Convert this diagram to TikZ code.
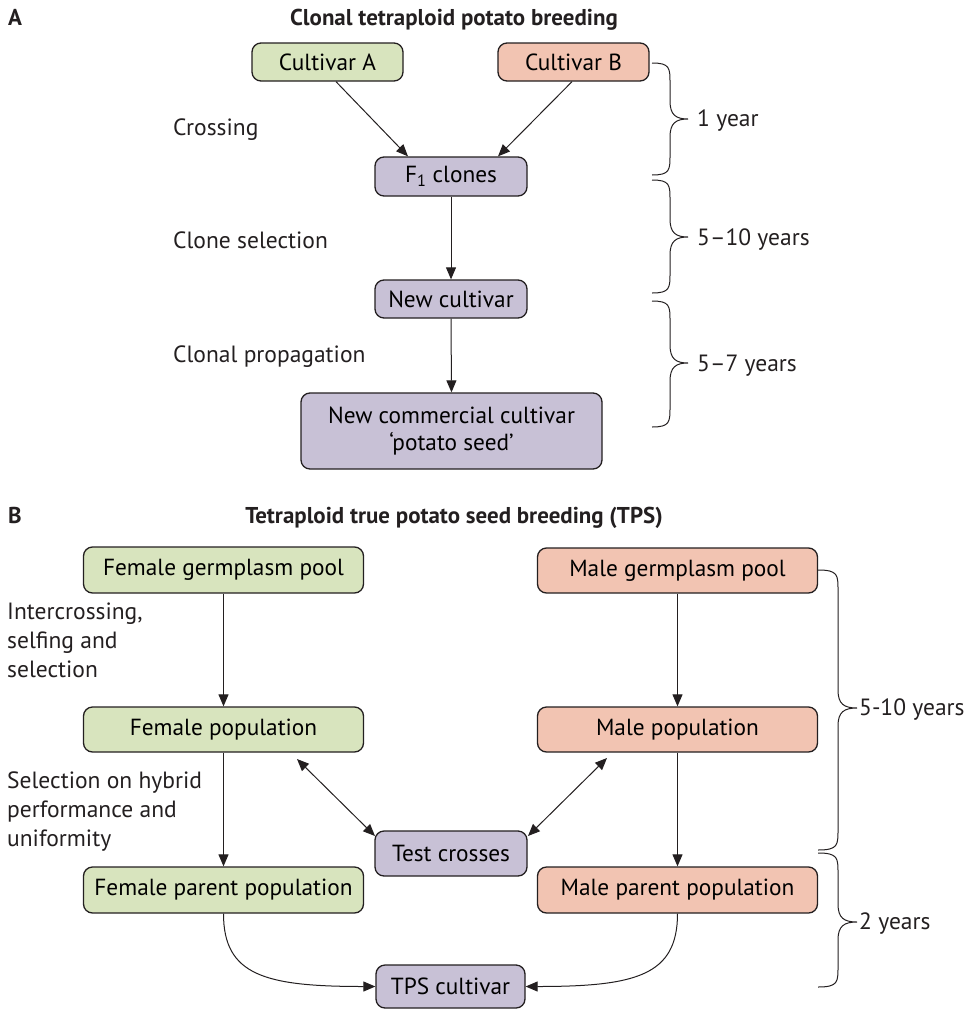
\documentclass[tikz,border=0pt]{standalone}
\usepackage{fontspec}
\setmainfont{PT Sans}
\usetikzlibrary{arrows.meta,calc}
\definecolor{cgreen}{RGB}{216,228,190}
\definecolor{cpink}{RGB}{242,196,178}
\definecolor{cpurple}{RGB}{200,193,214}
\definecolor{cline}{RGB}{35,31,32}
\newcommand\boxfont{\fontsize{23.4}{28}\selectfont}
\newcommand\lblfont{\fontsize{23.6}{28}\selectfont}
\newcommand\ttlfont{\fontsize{23}{26}\selectfont\bfseries}
\newcommand\drawbrace[6]{%
  \draw[brc] (#1,#4) .. controls (#2,#4) and (#2,{#4+5}) .. (#2,{#4+20})
    -- (#2,{#5-18}) .. controls (#2,{#5-4}) and ({#2+6},#5) .. (#3,#5)
    .. controls ({#2+6},#5) and (#2,{#5+4}) .. (#2,{#5+18})
    -- (#2,{#6-20}) .. controls (#2,{#6-5}) and (#2,#6) .. (#1,#6);}
\begin{document}
\begin{tikzpicture}[x=1bp,y=-1bp,
  box/.style n args={3}{draw=cline, line width=1.3bp, rounded corners=9bp,
    fill=#1, minimum width=#2, minimum height=#3, inner sep=0pt,
    align=center, font=\boxfont},
  arr/.style={draw=cline, line width=1bp, -{Triangle[length=12bp,width=10bp]}},
  darr/.style={draw=cline, line width=1bp,
    {Triangle[length=12bp,width=10bp]}-{Triangle[length=12bp,width=10bp]}},
  brc/.style={draw=cline, line width=1bp},
  lbl/.style={anchor=base west, inner sep=0pt, font=\lblfont, text=cline},
  ttl/.style={anchor=base, inner sep=0pt, font=\ttlfont, text=cline},
  plbl/.style={anchor=base west, inner sep=0pt, font=\ttlfont, text=cline}]
\useasboundingbox (0,0) rectangle (966,1010);

% ---------------- Panel A ----------------
\node[plbl] (pA) at (8,25) {A};
\node[ttl] (tA) at (454,25) {Clonal tetraploid potato breeding};

\node[box={cgreen}{151bp}{38bp}] (cA) at (327.5,62) {Cultivar A};
\node[box={cpink}{151bp}{38bp}] (cB) at (573.5,62) {Cultivar B};
\node[box={cpurple}{152bp}{39bp}] (F1) at (451,176.5) {F\textsubscript{1} clones};
\node[box={cpurple}{152bp}{38bp}] (nc) at (451,299) {New cultivar};
\node[box={cpurple}{301bp}{76bp}] (ncc) at (451.5,431) {New commercial cultivar\\‘potato seed’};

\draw[arr] ($(cA.south)+(8.5,0)$) -- ($(F1.north)+(-43,0)$);
\draw[arr] ($(cB.south)+(-1.5,0)$) -- ($(F1.north)+(47,0)$);
\draw[arr] (F1.south) -- (nc.north);
\draw[arr] (nc.south) -- (ncc.north);

\node[lbl] (l1) at (173,135) {Crossing};
\node[lbl] (l2) at (173,248) {Clone selection};
\node[lbl] (l3) at (173,362) {Clonal propagation};

\drawbrace{652}{670}{688}{63}{119}{175}
\drawbrace{652}{670}{688}{180}{237}{293}
\drawbrace{652}{670}{688}{301}{363}{427}
\node[lbl] (y1) at (697,126) {1 year};
\node[lbl] (y2) at (697,245) {5–10 years};
\node[lbl] (y3) at (697,371) {5–7 years};

% ---------------- Panel B ----------------
\node[plbl] (pB) at (8,523) {B};
\node[ttl] (tB) at (454,523) {Tetraploid true potato seed breeding (TPS)};

\node[box={cgreen}{280bp}{46bp}] (fgp) at (223.5,570) {Female germplasm pool};
\node[box={cgreen}{280bp}{45bp}] (fpop) at (223.5,729.5) {Female population};
\node[box={cgreen}{280bp}{46bp}] (fpp) at (223.5,890) {Female parent population};
\node[box={cpink}{280bp}{45bp}] (mgp) at (677.5,570.5) {Male germplasm pool};
\node[box={cpink}{280bp}{45bp}] (mpop) at (677.5,729.5) {Male population};
\node[box={cpink}{280bp}{46bp}] (mpp) at (677.5,890) {Male parent population};
\node[box={cpurple}{152bp}{45bp}] (tc) at (451,853.5) {Test crosses};
\node[box={cpurple}{149bp}{43bp}] (tps) at (450.5,986.5) {TPS cultivar};

\draw[arr] (fgp.south) -- (fpop.north);
\draw[arr] (fpop.south) -- (fpp.north);
\draw[arr] (mgp.south) -- (mpop.north);
\draw[arr] (mpop.south) -- (mpp.north);

\coordinate (fa) at (297,759);
\coordinate (ta) at (375,836);
\coordinate (ma) at (607,758);
\coordinate (tb) at (528,836);
\draw[darr] (fa) -- (ta);
\draw[darr] (ma) -- (tb);

\draw[arr] (fpp.south) .. controls +(0,62) and +(-110,0) .. (tps.west);
\draw[arr] (mpp.south) .. controls +(0,62) and +(110,0) .. (tps.east);

\node[lbl] (s1) at (7,619) {Intercrossing,};
\node[lbl] (s2) at (7,648) {selfing and};
\node[lbl] (s3) at (7,677) {selection};
\node[lbl] (s4) at (7,788) {Selection on hybrid};
\node[lbl] (s5) at (7,817) {performance and};
\node[lbl] (s6) at (7,846) {uniformity};

\drawbrace{818}{838}{857}{570}{708}{850}
\drawbrace{818}{838}{857}{853}{922}{987}
\node[lbl] (y4) at (859,715) {5-10 years};
\node[lbl] (y5) at (859,929) {2 years};
\end{tikzpicture}
\end{document}
